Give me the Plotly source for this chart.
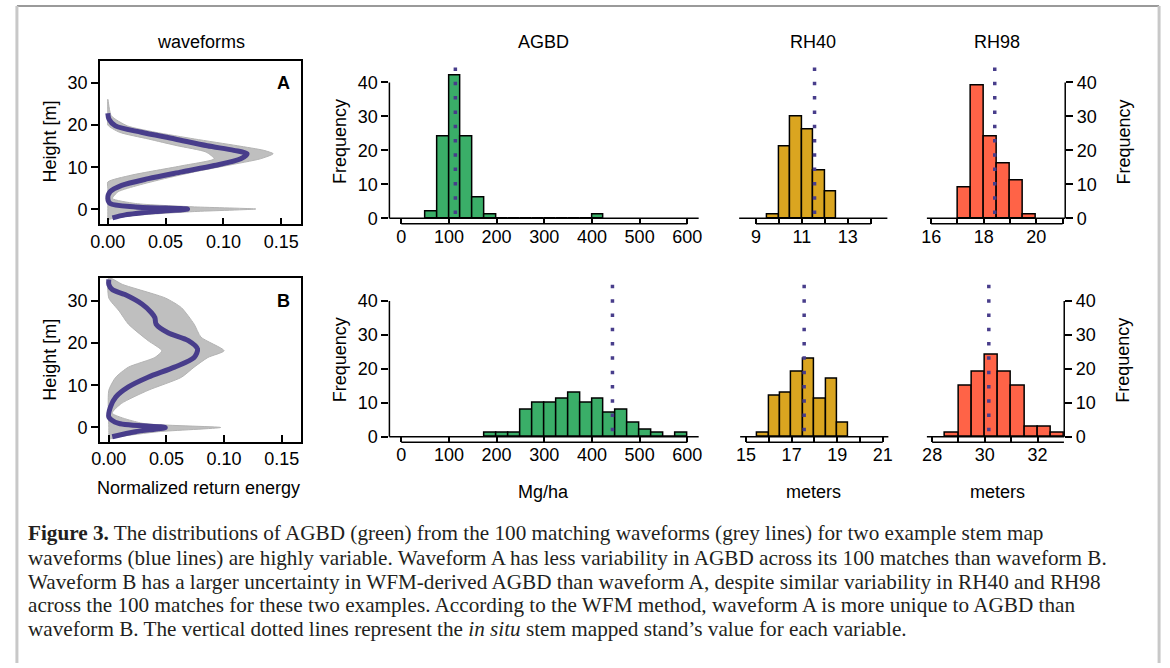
import plotly.graph_objects as go

W, H = 1170, 668

# ---------------- data ----------------
# Waveform A: stem-map waveform (blue) and envelope of the 100 matches (grey)
wfA_h = [22.8, 21.4, 19.8, 18.3, 16.7, 15.1, 14.0, 13.2, 12.0, 10.4, 8.9, 7.3, 5.7, 4.2, 2.6, 1.4, 0.6, 0.1, -0.5, -1.3, -2.0]
wfA_e = [0.0, 0.001, 0.0066, 0.029, 0.058, 0.086, 0.109, 0.1205, 0.115, 0.092, 0.064, 0.035, 0.012, 0.002, 0.0, 0.002, 0.024, 0.069, 0.041, 0.015, 0.004]
greyA_right_h = [26.1, 22.2, 19.8, 18.3, 16.7, 15.1, 14.0, 13.2, 12.0, 10.4, 8.9, 7.3, 5.7, 4.2, 2.6, 1.4, 0.6, 0.1, -0.5, -1.3, -2.0, -2.5]
greyA_right_e = [0.0, 0.003, 0.017, 0.041, 0.075, 0.112, 0.135, 0.143, 0.132, 0.103, 0.075, 0.049, 0.026, 0.009, 0.004, 0.024, 0.075, 0.128, 0.075, 0.029, 0.006, 0.0]
greyA_left_h = [26.1, 22.0, 20.0, 18.3, 16.7, 15.1, 13.6, 12.0, 10.4, 8.1, 6.5, 5.0, 2.0, -2.5]
greyA_left_e = [0.0, 0.0, 0.0, 0.010, 0.035, 0.060, 0.085, 0.092, 0.065, 0.020, 0.0, 0.0, 0.0, 0.0]

# Waveform B
wfB_h = [35.1, 33.9, 32.7, 31.5, 29.2, 27.2, 26.0, 24.5, 22.5, 20.6, 18.6, 16.6, 14.3, 11.9, 9.6, 7.2, 4.9, 2.5, 0.95, 0.0, -1.0, -2.2]
wfB_e = [0.0, 0.0, 0.003, 0.014, 0.029, 0.037, 0.040, 0.041, 0.051, 0.069, 0.077, 0.074, 0.057, 0.034, 0.017, 0.006, 0.0015, 0.0, 0.0086, 0.049, 0.023, 0.003]
greyB_right_h = [35.5, 33.9, 30.7, 28.4, 24.5, 21.4, 18.2, 16.6, 14.3, 11.9, 8.8, 5.7, 3.4, 1.0, 0.0, -1.0, -2.2, -2.8]
greyB_right_e = [0.0, 0.012, 0.049, 0.063, 0.074, 0.080, 0.100, 0.086, 0.074, 0.063, 0.034, 0.011, 0.003, 0.029, 0.097, 0.043, 0.009, 0.0]
greyB_left_h = [35.5, 30.7, 27.6, 24.5, 20.6, 18.2, 16.6, 14.3, 11.9, 8.8, 0.0, -2.8]
greyB_left_e = [0.0, 0.0, 0.009, 0.017, 0.034, 0.046, 0.040, 0.017, 0.006, 0.0, 0.0, 0.0]

# Histograms: first bin start, bin width, counts
agbdA_start, agbdA_width = 50, 25
agbdA_counts = [2, 24, 42, 24, 6, 1, 0, 0, 0, 0, 0, 0, 0, 0, 1]
rh40A_start, rh40A_width = 9.5, 0.5
rh40A_counts = [1, 21, 30, 26, 14, 8]
rh98A_start, rh98A_width = 17.0, 0.5
rh98A_counts = [9, 39, 24, 16, 11, 1]

agbdB_start, agbdB_width = 175, 25
agbdB_counts = [1, 1, 1, 8, 10, 10, 11, 13, 10, 11, 7, 8, 4, 2, 1, 0, 1]
rh40B_start, rh40B_width = 15.5, 0.5
rh40B_counts = [1, 12, 13, 19, 23, 11, 17, 4]
rh98B_start, rh98B_width = 28.5, 0.5
rh98B_counts = [1, 15, 19, 24, 19, 15, 3, 3, 1]

# In situ (stem map) values
insitu = {"agbdA": 113.5, "rh40A": 11.55, "rh98A": 18.42,
          "agbdB": 443.0, "rh40B": 17.55, "rh98B": 30.15}

# Tick values
wf_xticks = [0, 0.05, 0.10, 0.15]
wf_xticktext = ["0.00", "0.05", "0.10", "0.15"]
wf_yticks = [0, 10, 20, 30]
freq_ticks = [0, 10, 20, 30, 40]
agbd_ticks = [0, 100, 200, 300, 400, 500, 600]
rh40A_ticks = [9, 10, 11, 12, 13, 14]
rh98A_ticks = [16, 17, 18, 19, 20, 21]
rh40B_ticks = [15, 16, 17, 18, 19, 20, 21]
rh98B_ticks = [28, 29, 30, 31, 32, 33]

# ---------------- styling ----------------
BLUE = "#483d8b"
GREY = "#bfbfbf"
GREEN = "#3aae68"
GOLD = "#daa520"
RED = "#ff6347"
FONT = "Liberation Sans, Arial, sans-serif"
FS = 18


def dom_x(p0, p1):
    return [p0 / W, p1 / W]


def dom_y(ptop, pbot):
    return [1 - pbot / H, 1 - ptop / H]


def rng_x(v0, q0, s, p0, p1):
    return [v0 + (p0 - q0) / s, v0 + (p1 - q0) / s]


def rng_y(v0, q0, s, ptop, pbot):
    return [v0 + (q0 - pbot) / s, v0 + (q0 - ptop) / s]


def ticklabels(vals, every):
    return [str(v) if i % every == 0 else "" for i, v in enumerate(vals)]


fig = go.Figure()
layout = {}
shapes = []
annotations = []
tickfont = dict(family=FONT, size=FS, color="black")


def add_waveform(idx, env_rh, env_re, env_lh, env_le, bh, be, xdom, ydom, xr, yr, label):
    xa = "x" if idx == 1 else f"x{idx}"
    ya = "y" if idx == 1 else f"y{idx}"
    poly_x = list(env_re) + list(reversed(env_le))
    poly_y = list(env_rh) + list(reversed(env_lh))
    fig.add_trace(go.Scatter(x=poly_x, y=poly_y, mode="lines", fill="toself",
                             fillcolor=GREY, line=dict(color="#b3b3b3", width=1, shape="spline", smoothing=0.6),
                             xaxis=xa, yaxis=ya, hoverinfo="skip", showlegend=False))
    fig.add_trace(go.Scatter(x=be, y=bh, mode="lines",
                             line=dict(color=BLUE, width=5, shape="spline", smoothing=0.8),
                             xaxis=xa, yaxis=ya, showlegend=False))
    kx = "xaxis" if idx == 1 else f"xaxis{idx}"
    ky = "yaxis" if idx == 1 else f"yaxis{idx}"
    layout[kx] = dict(domain=xdom, range=xr, anchor=ya, showgrid=False, zeroline=False,
                      showline=True, mirror=True, linecolor="black", linewidth=1.5,
                      ticks="inside", ticklen=7, tickwidth=1.5, tickcolor="black",
                      tickvals=wf_xticks, ticktext=wf_xticktext, tickfont=tickfont)
    layout[ky] = dict(domain=ydom, range=yr, anchor=xa, showgrid=False, zeroline=False,
                      showline=True, mirror=True, linecolor="black", linewidth=1.5,
                      ticks="outside", ticklen=7, tickwidth=1.5, tickcolor="black",
                      tickvals=wf_yticks, tickfont=tickfont)
    annotations.append(dict(text=f"<b>{label}</b>", xref=f"{xa} domain", yref=f"{ya} domain",
                            x=0.91, y=0.86, xanchor="center", yanchor="middle", showarrow=False,
                            font=dict(family=FONT, size=FS, color="black")))


def add_hist(idx, start, width, counts, color, xdom, ydom, xr, yr, xticks, labevery,
             ins, yside, dot_top, dot_bot):
    xa = f"x{idx}"
    ya = f"y{idx}"
    centers = [start + width * (i + 0.5) for i in range(len(counts))]
    fig.add_trace(go.Bar(x=centers, y=counts, width=[width] * len(counts),
                         marker=dict(color=color, line=dict(color="black", width=1.5)),
                         xaxis=xa, yaxis=ya, showlegend=False))
    layout[f"xaxis{idx}"] = dict(domain=xdom, range=xr, anchor=ya, showgrid=False, zeroline=False,
                                 showline=False, ticks="inside", ticklen=6, tickwidth=1.5,
                                 tickcolor="black", tickvals=xticks,
                                 ticktext=ticklabels(xticks, labevery), tickfont=tickfont)
    yd = dict(domain=ydom, range=yr, anchor=xa, showgrid=False, zeroline=False, showline=False)
    if yside is None:
        yd.update(showticklabels=False, ticks="")
    else:
        yd.update(side=yside, ticks="outside", ticklen=7, tickwidth=1.5, tickcolor="black",
                  tickvals=freq_ticks, tickfont=tickfont)
        xpos = 0 if yside == "left" else 1
        shapes.append(dict(type="line", xref=f"{xa} domain", yref=ya, x0=xpos, x1=xpos,
                           y0=freq_ticks[0], y1=freq_ticks[-1], line=dict(color="black", width=1.5)))
    layout[f"yaxis{idx}"] = yd
    # zero baseline
    shapes.append(dict(type="line", xref=f"{xa} domain", yref=ya, x0=0, x1=1, y0=0, y1=0,
                       line=dict(color="black", width=1.5)))
    # axis line from first to last tick
    shapes.append(dict(type="line", xref=xa, yref=f"{ya} domain", x0=xticks[0], x1=xticks[-1],
                       y0=0, y1=0, line=dict(color="black", width=1.5)))
    # in situ dotted line
    shapes.append(dict(type="line", xref=xa, yref=f"{ya} domain", x0=ins, x1=ins,
                       y0=dot_top, y1=dot_bot, line=dict(color=BLUE, width=3.5, dash="3.5px,10.8px")))


# ----- waveform panels -----
add_waveform(1, greyA_right_h, greyA_right_e, greyA_left_h, greyA_left_e, wfA_h, wfA_e,
             dom_x(91, 295), dom_y(61, 226),
             rng_x(0, 99, 1170, 91, 295), rng_y(0, 211, 4.25, 61, 226), "A")
add_waveform(5, greyB_right_h, greyB_right_e, greyB_left_h, greyB_left_e, wfB_h, wfB_e,
             dom_x(91, 295), dom_y(280, 445),
             rng_x(0, 100, 1166.7, 91, 295), rng_y(0, 430.7, 4.25, 280, 445), "B")

TOPD = dom_y(64, 225.5)
TOPR = rng_y(0, 220, 3.425, 64, 225.5)
BOTD = dom_y(284, 445.5)
BOTR = rng_y(0, 440, 3.42, 284, 445.5)
dtA = (225.5 - 68) / (225.5 - 64)
dbA = (225.5 - 224) / (225.5 - 64)
dtB = (445.5 - 287) / (445.5 - 284)
dbB = (445.5 - 444) / (445.5 - 284)

add_hist(2, agbdA_start, agbdA_width, agbdA_counts, GREEN, dom_x(384, 697), TOPD,
         rng_x(0, 396, 0.4825, 384, 697), TOPR, agbd_ticks, 1, insitu["agbdA"], "left", dtA, dbA)
add_hist(3, rh40A_start, rh40A_width, rh40A_counts, GOLD, dom_x(738, 888), TOPD,
         rng_x(9, 755, 23.25, 738, 888), TOPR, rh40A_ticks, 2, insitu["rh40A"], None, dtA, dbA)
add_hist(4, rh98A_start, rh98A_width, rh98A_counts, RED, dom_x(928, 1068), TOPD,
         rng_x(16, 932.3, 26.6, 928, 1068), TOPR, rh98A_ticks, 2, insitu["rh98A"], "right", dtA, dbA)

add_hist(6, agbdB_start, agbdB_width, agbdB_counts, GREEN, dom_x(384, 697), BOTD,
         rng_x(0, 396, 0.4825, 384, 697), BOTR, agbd_ticks, 1, insitu["agbdB"], "left", dtB, dbB)
add_hist(7, rh40B_start, rh40B_width, rh40B_counts, GOLD, dom_x(739, 889), BOTD,
         rng_x(15, 745, 23.05, 739, 889), BOTR, rh40B_ticks, 2, insitu["rh40B"], None, dtB, dbB)
add_hist(8, rh98B_start, rh98B_width, rh98B_counts, RED, dom_x(928, 1067), BOTD,
         rng_x(28, 933.3, 26.68, 928, 1067), BOTR, rh98B_ticks, 2, insitu["rh98B"], "right", dtB, dbB)


def ptext(text, x, y, size=FS, angle=0, family=FONT, xanchor="center", color="black"):
    annotations.append(dict(text=text, xref="paper", yref="paper", x=x / W, y=1 - y / H,
                            xanchor=xanchor, yanchor="middle", showarrow=False, textangle=angle,
                            font=dict(family=family, size=size, color=color)))


# panel titles
ptext("waveforms", 193, 42)
ptext("AGBD", 540, 42)
ptext("RH40", 813, 42)
ptext("RH98", 999, 42)
# axis titles
ptext("Height [m]", 40, 143, angle=-90)
ptext("Height [m]", 41, 363, angle=-90)
ptext("Frequency", 334, 143, angle=-90)
ptext("Frequency", 334, 363, angle=-90)
ptext("Frequency", 1127, 143, angle=-90)
ptext("Frequency", 1127, 363, angle=-90)
ptext("Normalized return energy", 191, 492)
ptext("Mg/ha", 540, 496)
ptext("meters", 813, 496)
ptext("meters", 999, 496)

# caption
SERIF = "Liberation Serif, Times New Roman, serif"
cap_lines = [
    "<b>Figure 3.</b> The distributions of AGBD (green) from the 100 matching waveforms (grey lines) for two example stem map",
    "waveforms (blue lines) are highly variable. Waveform A has less variability in AGBD across its 100 matches than waveform B.",
    "Waveform B has a larger uncertainty in WFM-derived AGBD than waveform A, despite similar variability in RH40 and RH98",
    "across the 100 matches for these two examples. According to the WFM method, waveform A is more unique to AGBD than",
    "waveform B. The vertical dotted lines represent the <i>in situ</i> stem mapped stand\u2019s value for each variable.",
]
cap_y = [537, 562, 586, 610, 634]
for t, yy in zip(cap_lines, cap_y):
    ptext(t, 16, yy, size=21.2, family=SERIF, xanchor="left", color="#231f20")

# frame
shapes.append(dict(type="line", xref="paper", yref="paper", x0=7 / W, x1=1163 / W,
                   y0=1 - 6 / H, y1=1 - 6 / H, line=dict(color="#9a9a9a", width=2)))
shapes.append(dict(type="line", xref="paper", yref="paper", x0=7 / W, x1=7 / W,
                   y0=0, y1=1 - 6 / H, line=dict(color="#c8c8c8", width=3)))
shapes.append(dict(type="line", xref="paper", yref="paper", x0=1163 / W, x1=1163 / W,
                   y0=0, y1=1 - 6 / H, line=dict(color="#c8c8c8", width=3)))

fig.update_layout(width=W, height=H, margin=dict(l=0, r=0, t=0, b=0),
                  paper_bgcolor="white", plot_bgcolor="rgba(0,0,0,0)",
                  bargap=0, showlegend=False, shapes=shapes, annotations=annotations, **layout)
fig.write_html("out.html", config={"displayModeBar": False},
               post_script="document.body.style.margin='0';document.body.style.padding='0';"
                           "document.body.style.overflow='hidden';")
